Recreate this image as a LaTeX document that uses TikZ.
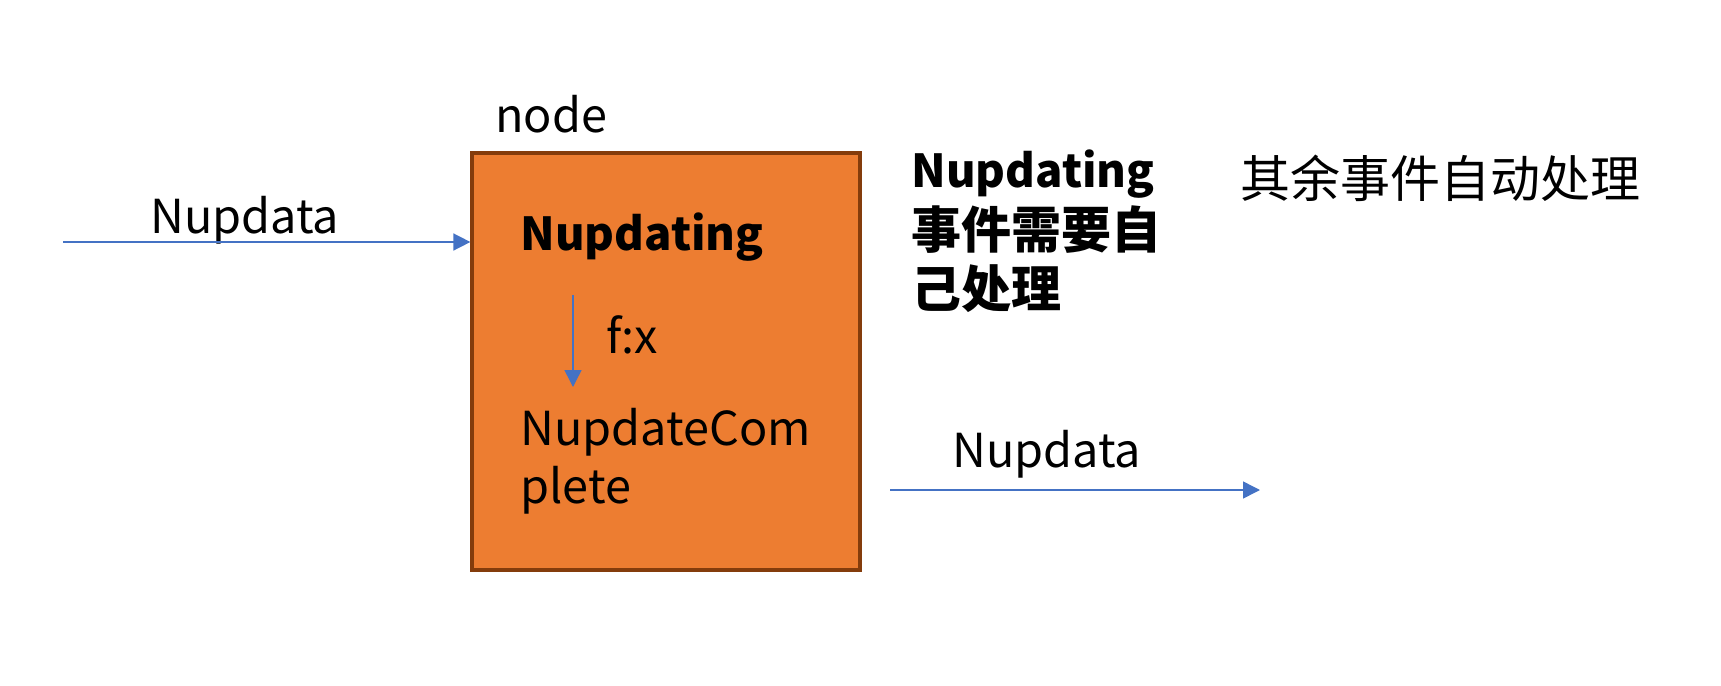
\documentclass[tikz,border=0pt]{standalone}
\usepackage{fontspec}
\setmainfont{Noto Sans CJK SC}
\usetikzlibrary{arrows.meta}
\definecolor{orangefill}{HTML}{ED7D31}
\definecolor{boxedge}{HTML}{843C0C}
\definecolor{arrowblue}{HTML}{4472C4}
\begin{document}
\begin{tikzpicture}[x=0.5pt,y=-0.5pt,
  txt/.style={inner sep=0,anchor=base west,font=\fontsize{23.4}{29.5}\selectfont},
  btxt/.style={txt,font=\fontsize{22.7}{29.5}\selectfont\bfseries},
  ctxt/.style={txt,font=\fontsize{25}{29.5}\selectfont},
  bctxt/.style={txt,font=\fontsize{25}{29.5}\selectfont\bfseries},
  flow/.style={draw=arrowblue,line width=0.75pt,-{Triangle[length=8.5pt,width=8.5pt]}}]
\useasboundingbox (0,0) rectangle (1721,686);
\node[draw=boxedge, fill=orangefill, line width=1.6pt, minimum width=194pt, minimum height=208.5pt, inner sep=0] (box) at (666,361.5) {};
\node[txt] (nodelbl) at (495,132) {node};
\node[txt] (inlbl) at (150,233) {Nupdata};
\node[btxt] (ing) at (520,250) {Nupdating};
\node[txt] (fx) at (606,353) {f:x};
\node[txt] (comp1) at (520,445) {NupdateCom};
\node[txt] (comp2) at (520,503) {plete};
\node[btxt] (own1) at (911,187) {Nupdating};
\node[bctxt] (own2) at (911,248) {事件需要自};
\node[bctxt] (own3) at (911,307) {己处理};
\node[ctxt] (auto) at (1240,197) {其余事件自动处理};
\node[txt] (outlbl) at (952,467) {Nupdata};
\coordinate (inStart) at (63,242);
\coordinate (fxStart) at (573,295);
\coordinate (fxEnd) at (573,387);
\coordinate (outStart) at (890,490);
\coordinate (outEnd) at (1260,490);
\draw[flow] (inStart) -- (inStart -| box.west);
\draw[flow] (fxStart) -- (fxEnd);
\draw[flow] (outStart) -- (outEnd);
\end{tikzpicture}
\end{document}
